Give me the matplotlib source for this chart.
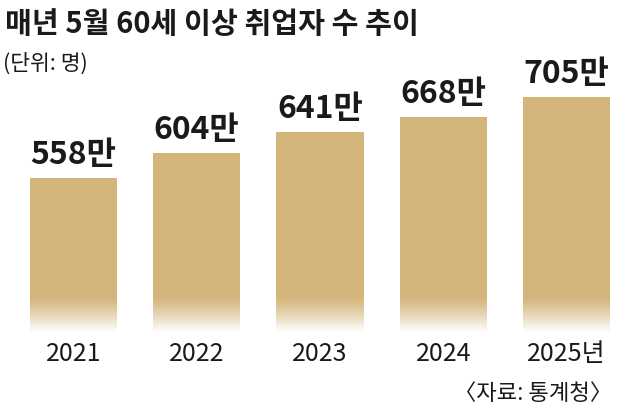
import matplotlib
matplotlib.use("Agg")
import matplotlib.pyplot as plt
import numpy as np

years = ["2021", "2022", "2023", "2024", "2025년"]
workers = [558, 604, 641, 668, 705]  # 만 명
value_labels = ["558만", "604만", "641만", "668만", "705만"]

title = "매년 5월 60세 이상 취업자 수 추이"
unit = "(단위: 명)"
source = "〈자료: 통계청〉"

plt.rcParams['font.family'] = ['Noto Sans CJK KR', 'DejaVu Sans']

fig = plt.figure(figsize=(6.4, 4.17), dpi=100)
ax = fig.add_axes([0, 0.204, 1, 0.652])

x = np.arange(len(years))
bar_color = "#d3b47a"
ax.bar(x, workers, width=0.706, color=bar_color, zorder=1)
ax.set_xlim(-0.596, 4.596)
ax.set_ylim(279, 772)

# fade bars to white near the bottom
grad = np.zeros((100, 1, 4))
grad[..., :3] = 1.0
grad[:, 0, 3] = np.linspace(0, 1, 100) ** 1.2
ax.imshow(grad, extent=[0, 1, 0, 0.13], transform=ax.transAxes,
          aspect="auto", origin="upper", zorder=2)

for xi, v, lab in zip(x, workers, value_labels):
    ax.text(xi, v + 13, lab, ha="center", va="bottom", fontsize=23,
            fontweight="bold", color="#1a1a1a", zorder=3)

ax.axis("off")

for xi, yr in zip(x, years):
    fig.text((73.5 + 123.25 * xi) / 640, 1 - 354 / 417, yr, ha="center",
             va="center", fontsize=18, color="#1a1a1a")

fig.text(5 / 640, 1 - 24 / 417, title, ha="left", va="center", fontsize=21,
         fontweight="bold", color="#1a1a1a")
fig.text(3 / 640, 1 - 64 / 417, unit, ha="left", va="center", fontsize=15.5,
         color="#1a1a1a")
fig.text(612 / 640, 1 - 393 / 417, source, ha="right", va="center",
         fontsize=16, color="#1a1a1a")

fig.savefig("out.png", dpi=100)
